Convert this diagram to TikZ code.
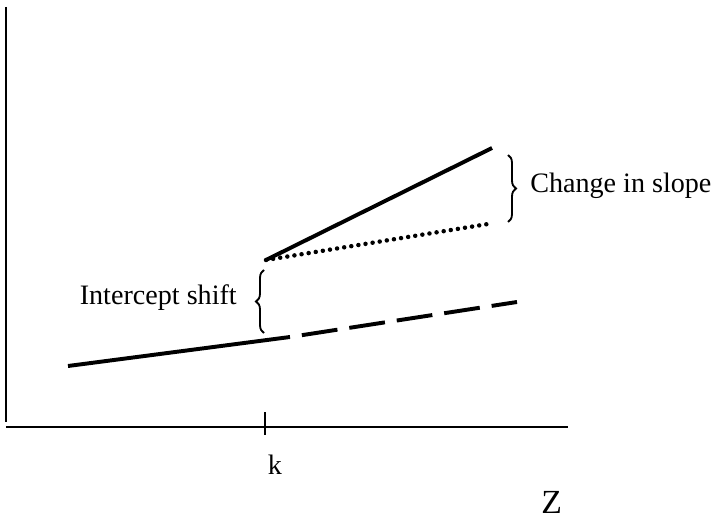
\documentclass[tikz,border=0pt]{standalone}
\usepackage{fontspec}
\setmainfont{Liberation Serif}
\usetikzlibrary{decorations.pathreplacing}
\begin{document}
\begin{tikzpicture}[font=\fontsize{20}{24}\selectfont]
\useasboundingbox (0,0) rectangle (17.9,13.1);
\draw[line width=1.4pt] (0.15,12.925) -- (0.15,2.55);
\draw[line width=1.8pt] (0.15,2.425) -- (14.2,2.425);
\draw[line width=1.8pt] (6.625,2.8) -- (6.625,2.225);
\node (k) at (6.875,1.475) {k};
\node (z) at (13.79,0.54) {\fontsize{24}{28}\selectfont Z};
\draw[line width=2.8pt] (1.7,3.95) -- (7.25,4.675);
\draw[line width=2.8pt, dash pattern=on 0.9cm off 0.3cm, dash phase=0.9cm] (7.25,4.675) -- (12.925,5.55);
\draw[line width=2.8pt] (6.65,6.6) -- (12.3,9.4);
\draw[line width=3.2pt, line cap=round, dash pattern=on 0pt off 0.18cm] (6.65,6.6) -- (12.2,7.5);
\draw[line width=1.3pt, decorate, decoration={brace, amplitude=0.2cm}] (12.7,9.225) -- (12.7,7.55);
\draw[line width=1.3pt, decorate, decoration={brace, amplitude=0.2cm}] (6.6,4.775) -- (6.6,6.35);
\node[anchor=west, inner sep=0] (slope) at (13.25,8.45) {Change in slope};
\node[anchor=east, inner sep=0] (shift) at (5.925,5.65) {Intercept shift};
\end{tikzpicture}
\end{document}
